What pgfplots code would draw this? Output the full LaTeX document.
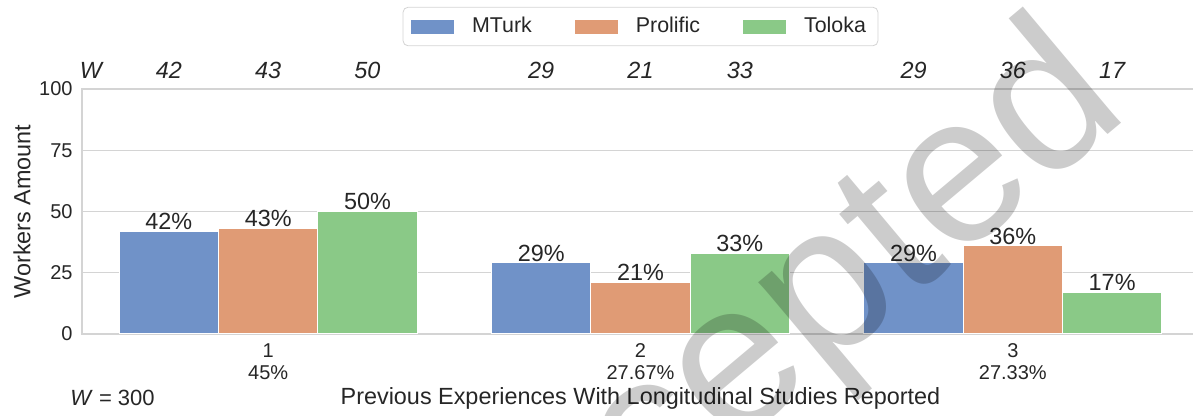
\documentclass[border=0pt]{standalone}
\usepackage{fontspec}
\setmainfont{Liberation Sans}
\usepackage{pgfplots}
\pgfplotsset{compat=1.18}
\definecolor{cmturk}{HTML}{7092C8}
\definecolor{cprol}{HTML}{E09B75}
\definecolor{ctol}{HTML}{8AC987}
\definecolor{txt}{HTML}{262626}
\definecolor{gridc}{HTML}{D4D4D4}
\pgfplotsset{/pgfplots/ybar legend/.style={/pgfplots/legend image code/.code={\fill[##1,draw=none,sharp corners] (0pt,-3.5pt) rectangle (21.5pt,3.5pt);}}}
\tikzset{topnum/.style={font=\fontsize{11.7}{13}\selectfont\itshape, text=txt}}
\begin{document}
\begin{tikzpicture}
\begin{axis}[
  anchor=south west, at={(0pt,0pt)},
  scale only axis, width=558.5pt, height=122.5pt,
  xmin=-0.5, xmax=2.5, ymin=0, ymax=100,
  ybar, bar width=0.2667, bar shift=0pt,
  ytick={0,25,50,75,100},
  xtick={0,1,2},
  xticklabels={{1\\45\%},{2\\27.67\%},{3\\27.33\%}},
  major tick length=0pt,
  axis line style={gridc, line width=0.7pt},
  ymajorgrids, grid style={gridc, line width=0.7pt},
  tick label style={font=\fontsize{10}{11}\selectfont, text=txt},
  xticklabel style={align=center, anchor=north, inner sep=0pt, yshift=-4.5pt},
  yticklabel style={anchor=east, inner sep=0pt, xshift=-4.5pt},
  /pgf/number format/assume math mode=true,
  ylabel={Workers Amount},
  ylabel style={at={(axis description cs:-0.0537,0.5)}, anchor=center, font=\fontsize{11.7}{13}\selectfont, text=txt},
  xlabel={Previous Experiences With Longitudinal Studies Reported},
  xlabel style={at={(axis description cs:0.5,0)}, anchor=center, yshift=-32pt, font=\fontsize{11.7}{13}\selectfont, text=txt},
  clip=false,
  nodes near coords={\pgfmathprintnumber{\pgfplotspointmeta}\%},
  every node near coord/.append style={font=\fontsize{11.7}{13}\selectfont, text=txt, inner sep=0pt, yshift=0.5pt},
  legend style={at={(0.5,1.255)}, anchor=center, legend columns=3, draw=gridc, rounded corners=2.5pt, fill=white,
    font=\fontsize{10.7}{13}\selectfont, text=txt, inner xsep=4pt, inner ysep=3pt,
    /tikz/every odd column/.append style={column sep=7pt},
    /tikz/every even column/.append style={column sep=19.5pt}},
]
\addplot[fill=cmturk, draw=white, line width=0.5pt] coordinates {(-0.2667,42) (0.7333,29) (1.7333,29)};
\addplot[fill=cprol, draw=white, line width=0.5pt] coordinates {(0,43) (1,21) (2,36)};
\addplot[fill=ctol, draw=white, line width=0.5pt] coordinates {(0.2667,50) (1.2667,33) (2.2667,17)};
\legend{MTurk,Prolific,Toloka}
\node[topnum] at (axis cs:-0.5,107.76) [xshift=4.5pt] {W};
\node[topnum] at (axis cs:-0.2667,107.76) {42};
\node[topnum] at (axis cs:0,107.76) {43};
\node[topnum] at (axis cs:0.2667,107.76) {50};
\node[topnum] at (axis cs:0.7333,107.76) {29};
\node[topnum] at (axis cs:1,107.76) {21};
\node[topnum] at (axis cs:1.2667,107.76) {33};
\node[topnum] at (axis cs:1.7333,107.76) {29};
\node[topnum] at (axis cs:2,107.76) {36};
\node[topnum] at (axis cs:2.2667,107.76) {17};
\node[anchor=west, inner sep=0pt, font=\fontsize{11}{13}\selectfont, text=txt] at (axis cs:-0.5,0) [xshift=-6pt, yshift=-32pt] {\textit{W} = 300};
\end{axis}
\node[rotate=40, font=\fontsize{105}{105}\selectfont, text=black, opacity=0.2] at (340pt,-10pt) {Accepted};
\pgfresetboundingbox
\useasboundingbox (-41pt,-41pt) rectangle (555.5pt,167pt);
\end{tikzpicture}
\end{document}
